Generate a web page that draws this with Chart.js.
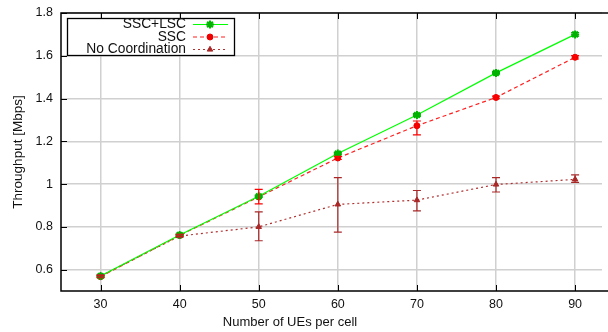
<!DOCTYPE html>
<html>
<head>
<meta charset="utf-8">
<script src="https://cdn.jsdelivr.net/npm/chart.js@4"></script>
<style>
  html, body { margin: 0; padding: 0; background: #fff; overflow: hidden; }
  #wrap { width: 608px; height: 332px; }
</style>
</head>
<body>
<div id="wrap"><canvas id="myChart"></canvas></div>
<script>
var ues = [30, 40, 50, 60, 70, 80, 90];

var ssclsc = [0.57, 0.762, 0.943, 1.143, 1.323, 1.52, 1.70];
var ssclscLow = [0.565, 0.757, 0.938, 1.138, 1.316, 1.514, 1.692];
var ssclscHigh = [0.575, 0.767, 0.948, 1.148, 1.330, 1.526, 1.708];

var ssc = [0.567, 0.76, 0.94, 1.122, 1.273, 1.405, 1.593];
var sscLow = [0.562, 0.755, 0.907, 1.115, 1.23, 1.399, 1.585];
var sscHigh = [0.572, 0.765, 0.975, 1.13, 1.295, 1.411, 1.601];

var nocoord = [0.57, 0.757, 0.80, 0.905, 0.925, 0.998, 1.022];
var nocoordLow = [0.565, 0.752, 0.735, 0.775, 0.875, 0.963, 1.008];
var nocoordHigh = [0.575, 0.762, 0.87, 1.03, 0.97, 1.03, 1.043];

var yTicks = [0.6, 0.8, 1, 1.2, 1.4, 1.6, 1.8];

var FONT = '"Liberation Sans", Arial, sans-serif';

function pts(vals) {
    var out = [];
    for (var i in ues) {
        out.push({ x: ues[i], y: vals[i] });
    }
    return out;
}

// gnuplot style: error bars, border, inward ticks, x title and legend box
var gnuplotStuff = {
    id: 'gnuplotStuff',
    afterDatasetsDraw: function(chart) {
        var ctx = chart.ctx;
        var xs = chart.scales.x, ys = chart.scales.y;
        var a = chart.chartArea;

        chart.data.datasets.forEach(function(ds) {
            ctx.save();
            ctx.strokeStyle = ds.errColor;
            ctx.lineWidth = 1.2;
            ctx.setLineDash([]);
            for (var i in ues) {
                var px = xs.getPixelForValue(ues[i]);
                var lo = ys.getPixelForValue(ds.low[i]);
                var hi = ys.getPixelForValue(ds.high[i]);
                ctx.beginPath();
                ctx.moveTo(px, lo); ctx.lineTo(px, hi);
                ctx.moveTo(px - 4, lo); ctx.lineTo(px + 4, lo);
                ctx.moveTo(px - 4, hi); ctx.lineTo(px + 4, hi);
                ctx.stroke();
            }
            ctx.restore();
        });

        ctx.save();
        ctx.strokeStyle = '#000';
        ctx.lineWidth = 1.5;
        ctx.beginPath();
        ctx.moveTo(chart.width, a.top);
        ctx.lineTo(a.left, a.top);
        ctx.lineTo(a.left, a.bottom);
        ctx.lineTo(chart.width, a.bottom);
        ctx.stroke();

        ctx.lineWidth = 1;
        ctx.beginPath();
        ues.forEach(function(v) {
            var px = Math.round(xs.getPixelForValue(v)) + 0.5;
            ctx.moveTo(px, a.bottom); ctx.lineTo(px, a.bottom - 6);
            ctx.moveTo(px, a.top); ctx.lineTo(px, a.top + 6);
        });
        yTicks.forEach(function(v) {
            var py = Math.round(ys.getPixelForValue(v)) + 0.5;
            ctx.moveTo(a.left, py); ctx.lineTo(a.left + 6, py);
        });
        ctx.stroke();

        // x axis title (gnuplot puts it left of the plot centre here)
        ctx.fillStyle = '#111';
        ctx.font = '13px ' + FONT;
        ctx.textAlign = 'center';
        ctx.textBaseline = 'middle';
        ctx.fillText('Number of UEs per cell', 290, 322);

        // legend
        ctx.fillStyle = '#fff';
        ctx.fillRect(67, 18, 167, 37);
        ctx.strokeStyle = '#000';
        ctx.lineWidth = 1.3;
        ctx.strokeRect(67.5, 18.5, 167, 37);
        ctx.font = '13.8px ' + FONT;
        ctx.textAlign = 'right';
        ctx.textBaseline = 'middle';
        var rowY = [24.5, 37, 49.5];
        chart.data.datasets.forEach(function(ds, k) {
            var y = rowY[k];
            ctx.fillStyle = '#111';
            ctx.fillText(ds.label, 186, y);
            ctx.save();
            ctx.strokeStyle = ds.borderColor;
            ctx.lineWidth = 1.2;
            ctx.setLineDash(ds.borderDash);
            ctx.beginPath();
            ctx.moveTo(193, y); ctx.lineTo(228, y);
            ctx.stroke();
            ctx.restore();
            ctx.save();
            ctx.fillStyle = ds.pointBackgroundColor;
            ctx.strokeStyle = ds.pointBorderColor;
            ctx.lineWidth = ds.pointBorderWidth;
            Chart.helpers.drawPoint(ctx, {
                pointStyle: ds.pointStyle,
                radius: ds.pointRadius,
                rotation: 0,
                borderWidth: ds.pointBorderWidth
            }, 210, y);
            ctx.restore();
        });
        ctx.restore();
    }
};

var chartdata = {
    datasets: [{
        label: 'SSC+LSC',
        data: pts(ssclsc),
        low: ssclscLow,
        high: ssclscHigh,
        errColor: '#00b000',
        borderColor: '#00ff00',
        borderWidth: 1.2,
        borderDash: [],
        pointStyle: 'star',
        pointRadius: 4,
        pointBorderWidth: 2,
        pointBorderColor: '#00b400',
        pointBackgroundColor: '#00b400',
        tension: 0
    }, {
        label: 'SSC',
        data: pts(ssc),
        low: sscLow,
        high: sscHigh,
        errColor: '#ff0000',
        borderColor: '#ff2020',
        borderWidth: 1.2,
        borderDash: [4, 3],
        pointStyle: 'circle',
        pointRadius: 3,
        pointBorderWidth: 1,
        pointBorderColor: '#ee0000',
        pointBackgroundColor: '#ee0000',
        tension: 0
    }, {
        label: 'No Coordination',
        data: pts(nocoord),
        low: nocoordLow,
        high: nocoordHigh,
        errColor: '#a82828',
        borderColor: '#b03030',
        borderWidth: 1.2,
        borderDash: [2, 3],
        pointStyle: 'triangle',
        pointRadius: 3.2,
        pointBorderWidth: 1,
        pointBorderColor: '#a82828',
        pointBackgroundColor: '#a82828',
        tension: 0
    }]
};

var ctx = document.getElementById('myChart');

var LineGraph = new Chart(ctx, {
    type: 'line',
    data: chartdata,
    plugins: [gnuplotStuff],
    options: {
        responsive: true,
        maintainAspectRatio: false,
        animation: false,
        layout: { padding: { top: 13, right: 0, left: 0, bottom: 0 } },
        plugins: {
            legend: { display: false },
            tooltip: { enabled: false }
        },
        scales: {
            x: {
                type: 'linear',
                min: 25,
                max: 93.4,
                afterFit: function(s) {
                    s.height = 41;
                    s.paddingLeft = 0;
                    s.paddingRight = 0;
                },
                afterBuildTicks: function(s) {
                    s.ticks = ues.map(function(v) { return { value: v }; });
                },
                grid: { color: '#d0d0d0', lineWidth: 1.5, drawTicks: false },
                border: { display: false },
                ticks: {
                    padding: 6,
                    color: '#111',
                    font: { family: FONT, size: 12.5 }
                }
            },
            y: {
                min: 0.5,
                max: 1.8,
                afterFit: function(s) {
                    s.width = 61;
                    s.paddingTop = 0;
                    s.paddingBottom = 0;
                },
                afterBuildTicks: function(s) {
                    s.ticks = yTicks.map(function(v) { return { value: v }; });
                },
                grid: { color: '#d0d0d0', lineWidth: 1.5, drawTicks: false },
                border: { display: false },
                ticks: {
                    padding: 8,
                    color: '#111',
                    font: { family: FONT, size: 12.5 },
                    callback: function(v) { return String(v); }
                },
                title: {
                    display: true,
                    text: 'Throughput [Mbps]',
                    color: '#111',
                    padding: { top: 10, bottom: 0 },
                    font: { family: FONT, size: 13.5 }
                }
            }
        }
    }
});
</script>
</body>
</html>
